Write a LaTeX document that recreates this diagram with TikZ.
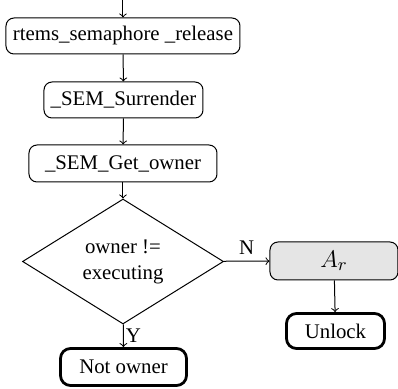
\documentclass[tikz,border=0pt]{standalone}
\usepackage{fontspec}
\setmainfont{Liberation Serif}
\usepackage{tikz}
\usetikzlibrary{shapes.geometric}

\tikzset{
	proc/.style={draw, rounded corners=4pt, inner sep=0pt, line width=0.5pt},
	term/.style={draw, rounded corners=5pt, inner sep=0pt, line width=1.4pt},
	decide/.style={draw, diamond, inner sep=0pt, line width=0.5pt, align=center},
	flow/.style={->, line width=0.5pt}
}

\begin{document}
\begin{tikzpicture}[x=0.5pt, y=-0.5pt, font=\fontsize{10.4}{13}\selectfont]
	
	\useasboundingbox (0,0) rectangle (398,389);
	\coordinate (in) at (123,0);
	
	\node[proc, minimum width=117pt, minimum height=18pt] (rel) at (123,36) {rtems\_semaphore \_release};
	\node[proc, minimum width=79.5pt, minimum height=18pt] (surr) at (123.5,100) {\_SEM\_Surrender};
	\node[proc, minimum width=94pt, minimum height=18.5pt] (own) at (123,163.5) {\_SEM\_Get\_owner};
	\node[decide, minimum width=100.5pt, minimum height=58.5pt] (chk) at (123,261.5) {owner !=\\executing};
	\node[proc, fill=black!10, minimum width=64pt, minimum height=19pt, font=\fontsize{13}{15}\selectfont] (ar) at (334,261) {$A_r$};
	\node[term, minimum width=49pt, minimum height=17.5pt] (unl) at (335.5,331) {Unlock};
	\node[term, minimum width=63pt, minimum height=18.5pt] (no) at (123.5,367) {Not owner};
	
	\draw[flow] (in) -- (rel);
	\draw[flow] (rel) -- (surr);
	\draw[flow] (surr) -- (own);
	\draw[flow] (own) -- (chk);
	\draw[flow] (chk) -- node[above] {N} (ar);
	\draw[flow] (ar) -- (unl);
	\draw[flow] (chk) -- node[right, inner sep=1pt] {Y} (no);
	
\end{tikzpicture}
\end{document}
